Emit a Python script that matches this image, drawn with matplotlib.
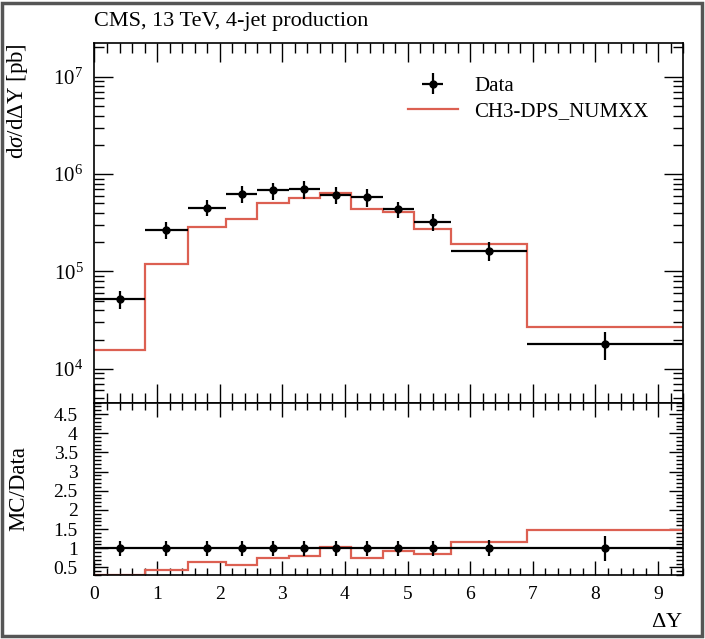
import numpy as np
import matplotlib
matplotlib.use('Agg')
import matplotlib.pyplot as plt
from matplotlib.ticker import MultipleLocator, LogLocator, FormatStrFormatter, NullFormatter
from matplotlib.patches import Rectangle

plt.rcParams['font.family'] = ['Liberation Serif', 'DejaVu Serif']
plt.rcParams['mathtext.fontset'] = 'custom'
plt.rcParams['mathtext.rm'] = 'Liberation Serif'
plt.rcParams['mathtext.it'] = 'Liberation Serif:italic'
plt.rcParams['font.size'] = 14

# bin edges in delta Y
edges = [0, 0.8, 1.5, 2.1, 2.6, 3.1, 3.6, 4.1, 4.6, 5.1, 5.7, 6.9, 9.4]
# measured cross section [pb]
data = [5.2e4, 2.68e5, 4.54e5, 6.24e5, 6.79e5, 7.0e5, 6.12e5, 5.8e5, 4.37e5, 3.24e5, 1.64e5, 1.81e4]
data_relerr = [0.2, 0.2, 0.19, 0.2, 0.2, 0.2, 0.2, 0.2, 0.19, 0.2, 0.21, 0.32]
# MC prediction
mc = [1.57e4, 1.18e5, 2.86e5, 3.45e5, 5.1e5, 5.66e5, 6.38e5, 4.4e5, 4.1e5, 2.72e5, 1.92e5, 2.68e4]

title = "CMS, 13 TeV, 4-jet production"
mc_label = "CH3-DPS_NUMXX"
red = '#dc6052'

edges = np.array(edges)
data = np.array(data)
mc = np.array(mc)
data_relerr = np.array(data_relerr)
xc = 0.5 * (edges[1:] + edges[:-1])
xw = 0.5 * (edges[1:] - edges[:-1])

fig = plt.figure(figsize=(7.05, 6.39), dpi=100)
ax = fig.add_axes([0.134, 0.370, 0.835, 0.562])
rax = fig.add_axes([0.134, 0.100, 0.835, 0.270], sharex=ax)

# main panel
ax.stairs(mc, edges, baseline=None, color=red, lw=1.6, label=mc_label, zorder=2)
ax.errorbar(xc, data, xerr=xw, yerr=data * data_relerr, fmt='o', color='black',
            ms=5, elinewidth=1.6, capsize=0, label='Data', zorder=3)
ax.set_yscale('log')
ax.set_ylim(4.5e3, 2.2e7)
ax.set_xlim(0, 9.4)
ax.yaxis.set_major_locator(LogLocator(base=10, numticks=10))
ax.yaxis.set_minor_locator(LogLocator(base=10, subs=np.arange(2, 10), numticks=20))
ax.yaxis.set_minor_formatter(NullFormatter())
ax.xaxis.set_major_locator(MultipleLocator(1))
ax.xaxis.set_minor_locator(MultipleLocator(0.2))
ax.tick_params(which='both', direction='in', top=True, right=True, labelbottom=False,
               width=1, labelsize=15, pad=8)
ax.tick_params(which='major', length=14)
ax.tick_params(which='minor', length=7)
ax.set_ylabel(r'd$\sigma$/d$\Delta$Y [pb]', loc='top', fontsize=16.5)
ax.yaxis.set_label_coords(-0.11, 1.0)

handles, labels = ax.get_legend_handles_labels()
ax.legend(handles[::-1], labels[::-1], loc='upper left', bbox_to_anchor=(0.5, 0.96),
          frameon=False, fontsize=15, handlelength=2.4, labelspacing=0.25)

# ratio panel
ratio = mc / data
rax.stairs(ratio, edges, baseline=None, color=red, lw=1.6, zorder=2)
rax.errorbar(xc, np.ones_like(xc), xerr=xw, yerr=data_relerr, fmt='o', color='black',
             ms=5, elinewidth=1.6, capsize=0, zorder=3)
rax.set_ylim(0.3, 4.8)
rax.yaxis.set_major_locator(MultipleLocator(0.5))
rax.yaxis.set_minor_locator(MultipleLocator(0.1))
rax.yaxis.set_major_formatter(FormatStrFormatter('%g'))
rax.tick_params(which='both', direction='in', top=True, right=True, width=1, labelsize=14)
rax.tick_params(axis='y', pad=12)
rax.tick_params(axis='x', pad=8)
rax.tick_params(which='major', length=10)
rax.tick_params(which='minor', length=5)
rax.set_ylabel('MC/Data', fontsize=16.5)
rax.yaxis.set_label_coords(-0.11, 0.5)
rax.set_xlabel(r'$\Delta$Y', loc='right', fontsize=16)
rax.xaxis.set_label_coords(1.0, -0.22)

for a in (ax, rax):
    for s in a.spines.values():
        s.set_linewidth(1.2)

fig.text(0.134, 0.966, title, fontsize=16, va='center', ha='left')
fig.patches.append(Rectangle((0.003, 0.004), 0.993, 0.992, transform=fig.transFigure,
                             fill=False, ec='#555555', lw=2.5))

fig.savefig('out.png', dpi=100)
